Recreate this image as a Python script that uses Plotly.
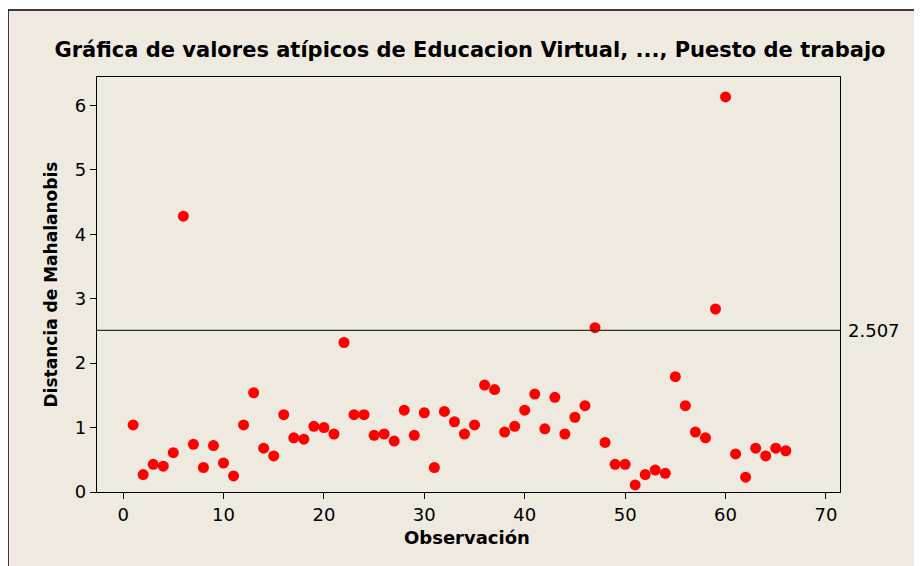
import plotly.graph_objects as go

observacion = list(range(1, 67))
distancia = [1.04, 0.27, 0.43, 0.40, 0.61, 4.28, 0.74, 0.38, 0.72, 0.45,
             0.25, 1.04, 1.54, 0.68, 0.56, 1.20, 0.84, 0.82, 1.02, 1.00,
             0.90, 2.32, 1.20, 1.20, 0.88, 0.90, 0.79, 1.27, 0.88, 1.23,
             0.38, 1.25, 1.09, 0.90, 1.04, 1.66, 1.59, 0.93, 1.02, 1.27,
             1.52, 0.98, 1.47, 0.90, 1.16, 1.34, 2.55, 0.77, 0.43, 0.43,
             0.11, 0.27, 0.34, 0.29, 1.79, 1.34, 0.93, 0.84, 2.84, 6.13,
             0.59, 0.23, 0.68, 0.56, 0.68, 0.64]
limite = 2.507
x_ticks = [0, 10, 20, 30, 40, 50, 60, 70]
y_ticks = [0, 1, 2, 3, 4, 5, 6]

titulo = "Gráfica de valores atípicos de Educacion Virtual, ..., Puesto de trabajo"
x_titulo = "Observación"
y_titulo = "Distancia de Mahalanobis"

# page has an 8px body margin; work in page pixels and convert
OFF = 8
W, H = 922, 566 - OFF
L, T = 97 - OFF, 77 - OFF
pw, ph = 743, 415
R, B = W - L - pw, H - T - ph

def px(x):
    return (x - OFF - L) / pw

def py(y):
    return (T + ph - (y - OFF)) / ph

fig = go.Figure()
fig.add_trace(go.Scatter(
    x=observacion, y=distancia, mode="markers",
    marker=dict(color="#ff0000", size=11, line=dict(width=0)),
    showlegend=False, hoverinfo="x+y"))

fig.add_shape(type="rect", xref="paper", yref="paper",
              x0=px(8), x1=px(960), y0=py(600), y1=py(10),
              fillcolor="#eeeae0", line=dict(color="black", width=1.5),
              layer="below")
fig.add_shape(type="line", xref="paper", yref="y", x0=0, x1=1,
              y0=limite, y1=limite, line=dict(color="#333333", width=1.2))

fig.add_annotation(xref="paper", yref="y", x=px(846), y=limite,
                   text=f"{limite}", showarrow=False, xanchor="left",
                   yanchor="middle",
                   font=dict(family="DejaVu Sans", size=18, color="black"))
fig.add_annotation(xref="paper", yref="paper", x=px(467), y=py(537),
                   text=f"<b>{x_titulo}</b>", showarrow=False,
                   xanchor="center", yanchor="middle",
                   font=dict(family="DejaVu Sans", size=18, color="black"))
fig.add_annotation(xref="paper", yref="paper", x=px(50), y=0.5,
                   text=f"<b>{y_titulo}</b>", showarrow=False, textangle=-90,
                   xanchor="center", yanchor="middle",
                   font=dict(family="DejaVu Sans", size=17, color="black"))

fig.update_layout(
    width=W, height=H,
    margin=dict(l=L, r=R, t=T, b=B),
    paper_bgcolor="white", plot_bgcolor="white",
    title=dict(text=f"<b>{titulo}</b>", x=(470 - OFF) / W, xanchor="center",
               y=1 - (50 - OFF) / H, yanchor="middle",
               font=dict(family="DejaVu Sans", size=21, color="black")),
    xaxis=dict(range=[-2.6, 71.4], tickvals=x_ticks, ticks="outside",
               ticklen=6, tickcolor="black", showline=True, linecolor="black",
               linewidth=1.2, mirror=True, showgrid=False, zeroline=False,
               tickfont=dict(family="DejaVu Sans", size=18, color="black")),
    yaxis=dict(range=[0, 6.44], tickvals=y_ticks, ticks="outside",
               ticklen=6, tickcolor="black", showline=True, linecolor="black",
               linewidth=1.2, mirror=True, showgrid=False, zeroline=False,
               tickfont=dict(family="DejaVu Sans", size=18, color="black")),
)

fig.write_html("out.html")
